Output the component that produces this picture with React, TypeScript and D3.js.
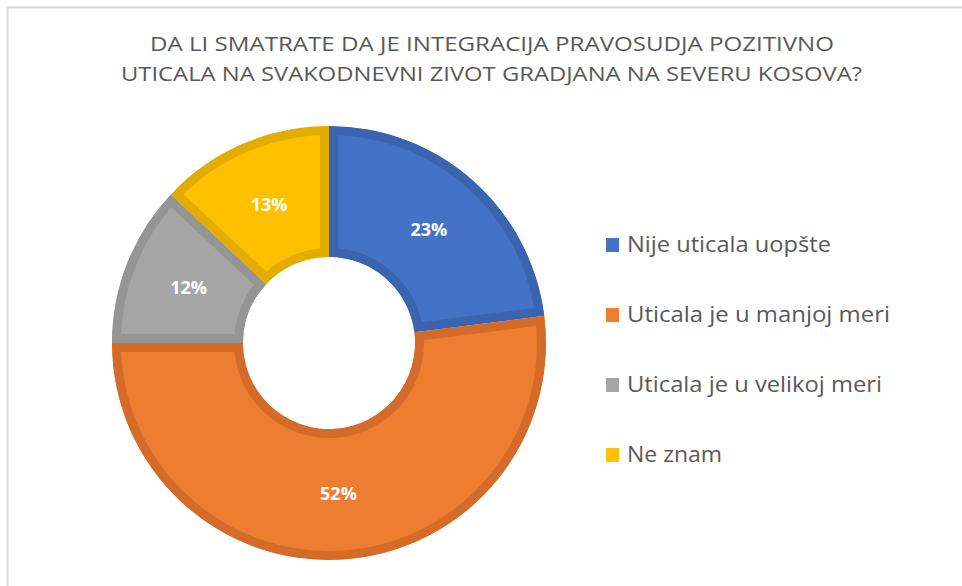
import * as d3 from "d3";
import { useEffect, useRef } from "react";

// podaci
const categories = [
  "Nije uticala uopšte",
  "Uticala je u manjoj meri",
  "Uticala je u velikoj meri",
  "Ne znam",
];
const values = [23, 52, 12, 13];
const fills = ["#4472C4", "#ED7D31", "#A5A5A5", "#FFC000"];
const borders = ["#3a64b0", "#d46b29", "#959595", "#e5ac00"];
const titleLines = [
  "DA LI SMATRATE DA JE  INTEGRACIJA PRAVOSUDJA POZITIVNO",
  "UTICALA NA SVAKODNEVNI ZIVOT GRADJANA NA SEVERU KOSOVA?",
];

const W = 962;
const H = 586;

const App = () => {
  const ref = useRef<SVGSVGElement | null>(null);

  useEffect(() => {
    const svg = d3.select(ref.current);
    svg.selectAll("*").remove();

    // okvir
    svg
      .append("rect")
      .attr("x", 7.5)
      .attr("y", 7.5)
      .attr("width", W + 20)
      .attr("height", H + 20)
      .attr("fill", "#fff")
      .attr("stroke", "#d9d9d9")
      .attr("stroke-width", 2);

    // naslov
    const titleX = [[150, 834], [121, 862]];
    const titleY = [51, 81];
    titleLines.forEach((t, i) => {
      svg
        .append("text")
        .attr("x", titleX[i][0])
        .attr("y", titleY[i])
        .attr("textLength", titleX[i][1] - titleX[i][0])
        .attr("lengthAdjust", "spacingAndGlyphs")
        .style("font-family", "'Open Sans', sans-serif")
        .style("font-size", "20px")
        .attr("fill", "#595959")
        .text(t);
    });

    const cx = 329;
    const cy = 343;
    const pie = d3.pie<number>().sort(null).value((d) => d);
    const arcs = pie(values);
    const arc = d3.arc<d3.PieArcDatum<number>>().innerRadius(86).outerRadius(217);
    const labelArc = d3.arc<d3.PieArcDatum<number>>().innerRadius(151).outerRadius(151);

    const g = svg.append("g").attr("transform", `translate(${cx},${cy})`);
    const defs = svg.append("defs");

    // krug: ispuna + unutrasnja ivica (clip)
    arcs.forEach((a, i) => {
      defs
        .append("clipPath")
        .attr("id", `clip${i}`)
        .append("path")
        .attr("d", arc(a) as string);
      g.append("path")
        .attr("d", arc(a) as string)
        .attr("fill", fills[i])
        .attr("stroke", borders[i])
        .attr("stroke-width", 18)
        .attr("stroke-linejoin", "miter")
        .attr("clip-path", `url(#clip${i})`);
    });

    arcs.forEach((a) => {
      const [x, y] = labelArc.centroid(a);
      g.append("text")
        .attr("x", x)
        .attr("y", y)
        .attr("text-anchor", "middle")
        .attr("dy", "0.35em")
        .style("font-family", "'Open Sans', sans-serif")
        .style("font-size", "18px")
        .style("font-weight", "bold")
        .attr("fill", "#fff")
        .text(`${a.data}%`);
    });

    // legenda
    const legendWidths = [204, 263, 255, 95];
    categories.forEach((c, i) => {
      const yy = 245 + i * 70;
      svg
        .append("rect")
        .attr("x", 606)
        .attr("y", yy - 7)
        .attr("width", 13)
        .attr("height", 14)
        .attr("fill", fills[i]);
      svg
        .append("text")
        .attr("x", 627)
        .attr("y", yy + 7)
        .attr("textLength", legendWidths[i])
        .attr("lengthAdjust", "spacingAndGlyphs")
        .style("font-family", "'Open Sans', sans-serif")
        .style("font-size", "21px")
        .attr("fill", "#595959")
        .text(c);
    });
  }, []);

  return (
    <svg
      ref={ref}
      width={W}
      height={H}
      style={{ position: "absolute", left: 0, top: 0, background: "#fff" }}
    />
  );
};

export default App;
